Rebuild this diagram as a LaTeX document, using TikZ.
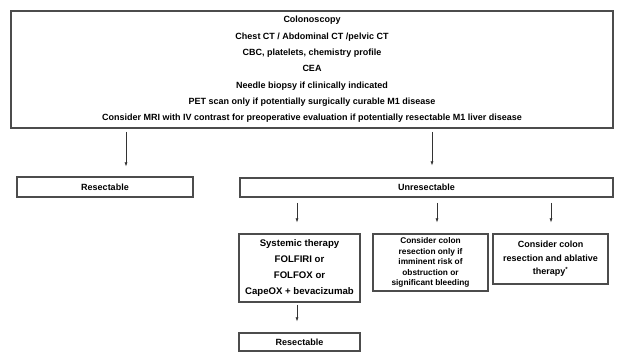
\documentclass[tikz,border=0pt]{standalone}
\usepackage{fontspec}
\setmainfont{Liberation Sans}
\tikzset{
  box/.style={draw=black!70, line width=1.1pt, rectangle, inner sep=0pt, align=center, font=\bfseries\fontsize{9}{16.3}\selectfont},
  arr/.style={draw=black!80, line width=0.6pt, -{Latex[length=4pt,width=3pt]}}
}
\usetikzlibrary{arrows.meta}
\begin{document}
\begin{tikzpicture}[x=1pt,y=-1pt]
\useasboundingbox[fill=white] (0,0) rectangle (618,352);
\node[box, minimum width=602pt, minimum height=117pt] (tests) at (312,69.5) {Colonoscopy\\Chest CT / Abdominal CT /pelvic CT\\CBC, platelets, chemistry profile\\CEA\\Needle biopsy if clinically indicated\\PET scan only if potentially surgically curable M1 disease\\Consider MRI with IV contrast for preoperative evaluation if potentially resectable M1 liver disease};
\node[box, minimum width=176pt, minimum height=20pt] (res) at (105,187) {Resectable};
\node[box, minimum width=373pt, minimum height=19pt] (unres) at (426.5,187.5) {Unresectable};
\node[box, minimum width=121pt, minimum height=68pt, font=\bfseries\fontsize{9.6}{16}\selectfont] (sys) at (299.5,268) {Systemic therapy\\FOLFIRI or\\FOLFOX or\\CapeOX + bevacizumab};
\node[box, minimum width=115pt, minimum height=57pt, font=\bfseries\fontsize{8.3}{10.5}\selectfont] (colon) at (430.5,262.5) {Consider colon\\resection only if\\imminent risk of\\obstruction or\\significant bleeding};
\node[box, minimum width=115pt, minimum height=50pt, font=\bfseries\fontsize{9}{13.5}\selectfont] (ablate) at (550.5,259) {Consider colon\\resection and ablative\\therapy\textsuperscript{*}};
\node[box, minimum width=121pt, minimum height=18pt] (resB) at (299.5,342) {Resectable};

\coordinate (t1) at (126,127);
\coordinate (t2) at (432,127);
\coordinate (u1) at (297,197);
\coordinate (u2) at (437,197);
\coordinate (u3) at (551,197);
\coordinate (s1) at (297,302);

\path[arr, shorten <=5pt, shorten >=10pt] (t1) -- (t1 |- res.north);
\path[arr, shorten <=5pt, shorten >=12pt] (t2) -- (t2 |- unres.north);
\path[arr, shorten <=6pt, shorten >=11pt] (u1) -- (u1 |- sys.north);
\path[arr, shorten <=6pt, shorten >=11pt] (u2) -- (u2 |- colon.north);
\path[arr, shorten <=6pt, shorten >=11pt] (u3) -- (u3 |- ablate.north);
\path[arr, shorten <=3pt, shorten >=11pt] (s1) -- (s1 |- resB.north);
\end{tikzpicture}
\end{document}
